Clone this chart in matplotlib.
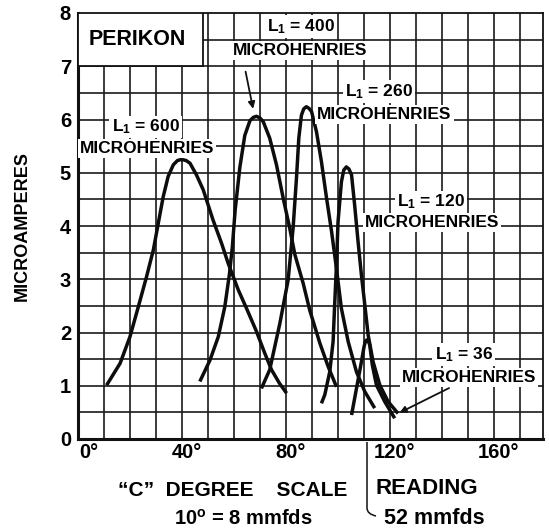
import matplotlib
matplotlib.use("Agg")
import matplotlib.pyplot as plt
from matplotlib.patches import Rectangle, PathPatch
from matplotlib.path import Path
from matplotlib.transforms import ScaledTranslation

plt.rcParams['font.family'] = ['Liberation Sans', 'DejaVu Sans']
plt.rcParams['font.weight'] = 'bold'
plt.rcParams['mathtext.fontset'] = 'custom'
plt.rcParams['mathtext.rm'] = 'Liberation Sans:bold'
plt.rcParams['mathtext.it'] = 'Liberation Sans:bold'
plt.rcParams['mathtext.bf'] = 'Liberation Sans:bold'

# ---- data (x: "C" degree scale, y: microamperes) ----
l600_x = [11.0, 16.2, 20.0, 23.2, 26.4, 29.0, 30.9, 32.8, 34.7, 36.7, 38.3, 39.9, 41.6, 43.1, 45.6, 48.2, 52.0, 55.3, 57.8, 61.7, 64.9, 68.7, 71.9, 74.5, 77.5, 80.3]
l600_y = [1.01, 1.42, 1.92, 2.48, 3.05, 3.55, 4.05, 4.55, 4.93, 5.15, 5.23, 5.25, 5.23, 5.18, 4.96, 4.68, 4.11, 3.67, 3.30, 2.80, 2.45, 2.02, 1.61, 1.30, 1.05, 0.86]

l400_x = [46.9, 50.8, 54.0, 56.5, 58.3, 59.4, 60.5, 62.3, 64.2, 66.2, 67.5, 68.7, 70.0, 71.3, 73.8, 76.4, 79.0, 81.5, 83.5, 86.7, 89.2, 93.1, 96.3, 99.5]
l400_y = [1.08, 1.48, 1.92, 2.48, 3.10, 3.60, 4.30, 5.10, 5.70, 5.98, 6.04, 6.06, 6.03, 5.96, 5.65, 5.15, 4.52, 3.96, 3.46, 2.92, 2.42, 1.80, 1.36, 0.98]

l260_x = [70.6, 73.8, 77.7, 80.9, 82.8, 84.1, 85.0, 86.0, 86.9, 87.9, 88.9, 89.9, 91.8, 93.7, 95.6, 97.6, 99.5, 101.4, 104.0, 107.2, 110.4, 114.2]
l260_y = [0.95, 1.30, 2.17, 2.99, 3.96, 4.90, 5.65, 6.08, 6.20, 6.24, 6.21, 6.15, 5.77, 5.21, 4.55, 3.90, 3.20, 2.45, 1.83, 1.26, 0.89, 0.58]

l120_x = [93.7, 95.0, 96.9, 98.2, 98.8, 99.5, 100.1, 101.4, 102.3, 103.3, 104.3, 105.3, 106.5, 107.8, 109.1, 110.4, 111.7, 113.6, 116.2, 119.4, 123.2]
l120_y = [0.67, 0.83, 1.26, 1.83, 2.52, 3.27, 4.08, 4.83, 5.05, 5.11, 5.07, 4.96, 4.39, 3.71, 3.08, 2.52, 1.95, 1.45, 1.01, 0.70, 0.48]

l36_x = [105.3, 107.2, 109.1, 110.1, 110.6, 111.1, 111.7, 112.3, 113.3, 114.9, 118.1, 121.9]
l36_y = [0.45, 0.95, 1.45, 1.73, 1.83, 1.86, 1.84, 1.77, 1.39, 1.01, 0.70, 0.39]

curves = [(l600_x, l600_y), (l400_x, l400_y), (l260_x, l260_y), (l120_x, l120_y), (l36_x, l36_y)]

x_ticks = [0, 40, 80, 120, 160]
x_tick_labels = ["0°", "40°", "80°", "120°", "160°"]
y_ticks = [0, 1, 2, 3, 4, 5, 6, 7, 8]

W, H = 549, 529
fig = plt.figure(figsize=(W / 100, H / 100), dpi=100)
fig.patch.set_facecolor('white')
ax = fig.add_axes([78 / W, 1 - 439 / H, (543 - 78) / W, (439 - 13) / H])
ax.set_xlim(0, 179)
ax.set_ylim(0, 8)

# grid
for gx in range(10, 180, 10):
    ax.axvline(gx, color='#1a1a1a', lw=1.2, zorder=1)
for k in range(1, 16):
    ax.axhline(k * 0.5, color='#1a1a1a', lw=1.2, zorder=1)

for s in ax.spines.values():
    s.set_linewidth(1.3)
    s.set_color('#111111')
ax.spines['left'].set_linewidth(2.2)
ax.spines['bottom'].set_linewidth(2.2)

ax.set_xticks(x_ticks)
ax.set_xticklabels(x_tick_labels, fontsize=14.5, fontweight='bold')
ax.set_yticks(y_ticks)
ax.set_yticklabels([str(v) for v in y_ticks], fontsize=14.5, fontweight='bold')
ax.tick_params(axis='y', length=0, pad=5)
ax.tick_params(axis='x', length=0, pad=3)
for i, lab_ in enumerate(ax.get_xticklabels()):
    dx = 5 if i > 0 else 11
    lab_.set_transform(lab_.get_transform() + ScaledTranslation(dx / 100, 0, fig.dpi_scale_trans))

# curves
for cx, cy in curves:
    ax.plot(cx, cy, color='#0d0d0d', lw=2.5, solid_capstyle='butt', solid_joinstyle='round', zorder=4)

# PERIKON box
ax.add_patch(Rectangle((0, 7.0), 48, 1.0, facecolor='white', edgecolor='#111111', lw=1.3, zorder=3))
ax.text(22.8, 7.5, "PERIKON", fontsize=15.5, fontweight='bold', ha='center', va='center', zorder=5)

bbox = dict(facecolor='white', edgecolor='none', pad=1.5)
def lab(x, y, s, fs=12.5):
    ax.text(x, y, s, fontsize=fs, fontweight='bold', ha='center', va='center', bbox=bbox, zorder=5)

lab(26.0, 5.86, "L$_1$ = 600")
lab(26.5, 5.46, "MICROHENRIES")
lab(86.0, 7.74, "L$_1$ = 400")
lab(85.6, 7.30, "MICROHENRIES")
lab(116.0, 6.52, "L$_1$ = 260")
lab(118.0, 6.10, "MICROHENRIES")
lab(135.8, 4.45, "L$_1$ = 120")
lab(136.2, 4.06, "MICROHENRIES")
lab(148.5, 1.58, "L$_1$ = 36")
lab(150.6, 1.16, "MICROHENRIES")

arrow = dict(arrowstyle='-|>', color='#111111', lw=1.3, mutation_scale=10)
ax.annotate("", xy=(67.6, 6.15), xytext=(64.3, 6.95), arrowprops=arrow, zorder=6)
ax.annotate("", xy=(122.8, 0.47), xytext=(143.8, 0.98), arrowprops=arrow, zorder=6)

# axis titles
fig.text(22 / W, 1 - 226 / H, "MICROAMPERES", rotation=90, fontsize=13, fontweight='bold', ha='center', va='center')
fig.text(233 / W, 1 - 490 / H, "“C”  DEGREE    SCALE", fontsize=15, fontweight='bold', ha='center', va='center')
fig.text(243 / W, 1 - 519 / H, "10$^{o}$ = 8 mmfds", fontsize=14.5, fontweight='bold', ha='center', va='center')
fig.text(427 / W, 1 - 488 / H, "READING", fontsize=16, fontweight='bold', ha='center', va='center')
fig.text(434 / W, 1 - 518 / H, "52 mmfds", fontsize=15.5, fontweight='bold', ha='center', va='center')

# bracket
verts = [(367, 442), (367, 508), (367, 514), (376, 516)]
codes = [Path.MOVETO, Path.LINETO, Path.CURVE3, Path.CURVE3]
vf = [(vx / W, 1 - vy / H) for vx, vy in verts]
fig.add_artist(PathPatch(Path(vf, codes), transform=fig.transFigure, fill=False, lw=1.1, edgecolor='#111111'))

fig.savefig("out.png", dpi=100, facecolor='white')
